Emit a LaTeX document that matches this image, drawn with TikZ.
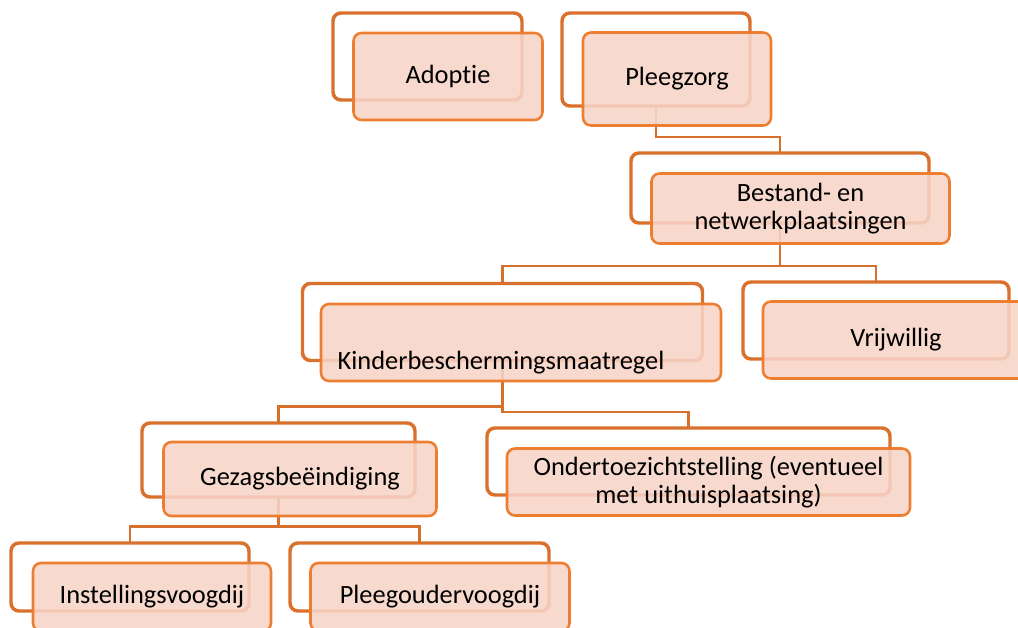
\documentclass[tikz,border=0pt]{standalone}
\usepackage{fontspec}
\setmainfont{Carlito}[Ligatures=NoCommon]
\usetikzlibrary{arrows}
\definecolor{backline}{RGB}{217,113,45}
\definecolor{frontline}{RGB}{237,125,49}
\definecolor{frontfill}{RGB}{247,212,199}
\tikzset{
  boxsize/.style 2 args={minimum width=#1*0.75pt, minimum height=#2*0.75pt},
  backbox/.style={draw=backline, line width=2.6pt, fill=white, rounded corners=6pt, inner sep=0pt, outer sep=0pt},
  frontbox/.style={draw=frontline, line width=1.9pt, fill=frontfill, fill opacity=0.88, text opacity=1, rounded corners=6pt, inner sep=0pt, outer sep=0pt, align=center},
  link/.style={draw=frontline!90!black, line width=1.8pt},
}
\begin{document}
\begin{tikzpicture}[x=0.75pt, y=-0.75pt, font=\fontsize{19.8}{21}\selectfont]
    \useasboundingbox (0,0) rectangle (1018,628);
    \clip (0,0) rectangle (1018,628);

    \draw node at (427.5,56.5)[name=adoptieB,backbox,boxsize={189}{87}]{};
    \draw node at (656,59.5)[name=pleegzorgB,backbox,boxsize={188}{93}]{};
    \draw node at (780,188)[name=bestandB,backbox,boxsize={298}{70}]{};
    \draw node at (502.5,322)[name=kinderB,backbox,boxsize={400}{77}]{};
    \draw node at (876,320.5)[name=vrijwilligB,backbox,boxsize={266}{77}]{};
    \draw node at (278.5,460)[name=gezagB,backbox,boxsize={273}{74}]{};
    \draw node at (688.5,461.5)[name=otsB,backbox,boxsize={403}{67}]{};
    \draw node at (130,577)[name=instellingB,backbox,boxsize={238}{68}]{};
    \draw node at (419.5,577)[name=pleegouderB,backbox,boxsize={259}{68}]{};

    \draw[link](pleegzorgB.south) |- ([yshift=12pt]bestandB.north) -| (bestandB.north);
    \draw[link](bestandB.south) |- ([yshift=12pt]vrijwilligB.north) -| (kinderB.north);
    \draw[link](bestandB.south) |- ([yshift=12pt]vrijwilligB.north) -| (vrijwilligB.north);
    \draw[link](kinderB.south) |- ([yshift=12.5pt]gezagB.north) -| (gezagB.north);
    \draw[link](kinderB.south) |- ([yshift=12pt]otsB.north) -| (otsB.north);
    \draw[link](gezagB.south) |- ([yshift=12.5pt]instellingB.north) -| (instellingB.north);
    \draw[link](gezagB.south) |- ([yshift=12.5pt]pleegouderB.north) -| (pleegouderB.north);

    \draw node at (448,76.5)[name=adoptie,frontbox,boxsize={189}{87}]{Adoptie};
    \draw node at (677,79)[name=pleegzorg,frontbox,boxsize={188}{93}]{Pleegzorg};
    \draw node at (800.5,208.5)[name=bestand,frontbox,boxsize={298}{70}]{Bestand- en\\netwerkplaatsingen};
    \draw node at (521,342.5)[name=kinder,frontbox,boxsize={400}{77}]{};
    \draw node at (501,363)[name=kindertekst]{Kinderbeschermingsmaatregel};
    \draw node at (896,340)[name=vrijwillig,frontbox,boxsize={266}{77}]{Vrijwillig};
    \draw node at (300,479)[name=gezag,frontbox,boxsize={273}{74}]{Gezagsbeëindiging};
    \draw node at (708.5,482)[name=ots,frontbox,boxsize={403}{67}]{Ondertoezichtstelling (eventueel\\met uithuisplaatsing)};
    \draw node at (152,597)[name=instelling,frontbox,boxsize={238}{68}]{Instellingsvoogdij};
    \draw node at (440,597)[name=pleegouder,frontbox,boxsize={259}{68}]{Pleegoudervoogdij};
\end{tikzpicture}
\end{document}
